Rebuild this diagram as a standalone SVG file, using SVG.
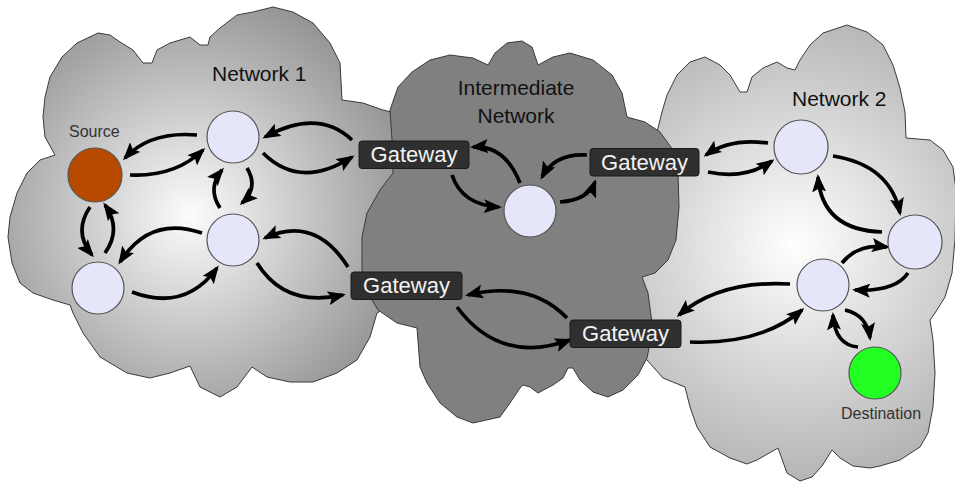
<svg xmlns="http://www.w3.org/2000/svg" width="955" height="482" viewBox="0 0 955 482">
  <defs>
    <radialGradient id="gradNet1" gradientUnits="userSpaceOnUse" cx="190" cy="215" r="230">
      <stop offset="0" stop-color="#fcfcfc"/>
      <stop offset="1" stop-color="#939393"/>
    </radialGradient>
    <radialGradient id="gradNet2" gradientUnits="userSpaceOnUse" cx="795" cy="245" r="250">
      <stop offset="0" stop-color="#ffffff"/>
      <stop offset="1" stop-color="#b0b0b0"/>
    </radialGradient>
    <marker id="head" markerUnits="userSpaceOnUse" markerWidth="18" markerHeight="14" refX="15" refY="7" orient="auto" viewBox="0 0 18 14">
      <path d="M0,0 L18,7 L0,14 L3.5,7 z" fill="#000"/>
    </marker>
  </defs>
  <style>
    .cloud{stroke:#3a3a3a;stroke-width:1;stroke-linejoin:round}
    .node{fill:#e6e6fa;stroke:#555;stroke-width:1.2}
    .gw rect{fill:#2f2f2f;stroke:#1a1a1a;stroke-width:1}
    .gw text{font-family:"Liberation Sans",Arial,sans-serif;font-size:22px;fill:#f2f2f2;text-anchor:middle}
    .label{font-family:"Liberation Sans",Arial,sans-serif;fill:#111}
    .small{font-family:"Liberation Sans",Arial,sans-serif;font-size:16px;fill:#333}
    .conn path{fill:none;stroke:#000;stroke-width:3.7;marker-end:url(#head)}
  </style>

  <!-- Network 1 cloud -->
  <g id="network1">
    <path class="cloud" fill="url(#gradNet1)" d="M45,97 L50,77 L62,57 L77,43 L98,33 L110,35 L120,42 L133,50 L143,63 L152,63 L157,50 L170,43 L190,37 L200,45 L208,45 L210,37 L220,28 L237,15 L253,12 L273,7 L293,12 L313,23 L330,43 L340,63 L342,100 L363,103 L383,110 L400,114 L420,200 L400,300 L377,313 L370,337 L357,360 L337,373 L313,382 L290,382 L267,377 L252,367 L237,387 L220,397 L200,387 L190,366 L170,373 L150,378 L127,373 L100,357 L83,333 L73,313 L70,305 L53,300 L33,293 L20,283 L12,263 L8,237 L10,217 L17,193 L27,173 L40,160 L55,155 L45,137 L43,117 Z"/>
    <text class="label" x="212" y="81" font-size="21">Network 1</text>
  </g>

  <!-- Network 2 cloud -->
  <g id="network2">
    <path class="cloud" fill="url(#gradNet2)" d="M662,112 L667,95 L677,75 L690,62 L705,57 L720,65 L730,75 L740,92 L747,92 L752,77 L763,68 L777,62 L787,68 L795,70 L800,60 L810,45 L823,33 L847,25 L867,32 L883,45 L893,65 L900,88 L905,112 L906,138 L930,140 L943,150 L953,167 L956,190 L955,240 L952,273 L945,297 L935,313 L930,320 L933,340 L935,373 L933,407 L928,433 L920,447 L900,460 L880,466 L870,468 L853,466 L840,458 L832,450 L822,466 L812,477 L800,481 L787,473 L778,448 L757,460 L747,464 L730,458 L710,447 L697,427 L690,407 L685,387 L663,378 L647,360 L640,355 L630,300 L630,200 L655,140 Z"/>
    <text class="label" x="792" y="106" font-size="21">Network 2</text>
  </g>

  <!-- Intermediate network cloud -->
  <g id="intermediate">
    <path class="cloud" fill="#808080" d="M390,110 L398,87 L412,72 L430,60 L450,55 L473,58 L488,65 L495,53 L507,43 L522,41 L532,47 L538,65 L553,57 L570,53 L593,60 L612,75 L622,93 L627,117 L645,122 L660,132 L673,150 L678,173 L679,207 L676,240 L668,260 L655,273 L642,277 L648,293 L652,323 L650,343 L647,358 L638,375 L623,390 L608,397 L593,392 L580,380 L573,368 L568,368 L563,378 L553,385 L538,393 L530,387 L523,385 L520,388 L510,403 L500,417 L473,423 L457,417 L440,403 L427,383 L420,367 L417,328 L397,323 L378,310 L368,293 L362,270 L362,237 L367,213 L380,190 L393,173 L392,140 Z"/>
    <text class="label" x="516" y="95" font-size="21" text-anchor="middle">Intermediate</text>
    <text class="label" x="516" y="123" font-size="21" text-anchor="middle">Network</text>
  </g>

  <!-- Connectors -->
  <g id="connectors" class="conn">
    <!-- Network 1 -->
    <path d="M197,135 Q150,131 125,158"/>
    <path d="M130,175 Q175,177 203,150"/>
    <path d="M220,208 Q207,188 222,170"/>
    <path d="M247,168 Q259,188 242,203"/>
    <path d="M90,207 Q73,232 92,255"/>
    <path d="M105,253 Q122,229 105,205"/>
    <path d="M202,233 Q150,215 120,262"/>
    <path d="M132,292 Q185,312 217,268"/>
    <path d="M352,140 Q318,108 265,137"/>
    <path d="M263,153 Q300,190 352,157"/>
    <path d="M348,267 Q315,215 265,238"/>
    <path d="M257,263 Q285,308 343,295"/>
    <!-- Intermediate network -->
    <path d="M520,183 Q505,145 473,147"/>
    <path d="M452,175 Q462,205 499,207"/>
    <path d="M587,155 Q555,153 542,177"/>
    <path d="M560,202 Q588,200 595,182"/>
    <path d="M567,318 Q530,280 468,295"/>
    <path d="M457,307 Q500,365 570,340"/>
    <!-- Network 2 -->
    <path d="M768,143 Q730,138 706,155"/>
    <path d="M708,172 Q745,180 772,161"/>
    <path d="M833,156 Q890,165 900,213"/>
    <path d="M882,232 Q822,230 818,177"/>
    <path d="M842,263 Q858,243 887,247"/>
    <path d="M908,273 Q895,292 855,290"/>
    <path d="M790,284 Q720,280 679,315"/>
    <path d="M690,342 Q760,345 802,310"/>
    <path d="M845,310 Q867,315 870,338"/>
    <path d="M858,347 Q835,345 833,315"/>
  </g>

  <!-- Network 1 hosts -->
  <g id="source">
    <circle cx="95" cy="175" r="27" fill="#b84a00" stroke="#555" stroke-width="1.2"/>
    <text class="small" x="69" y="137">Source</text>
  </g>
  <g id="n1-top"><circle class="node" cx="233" cy="137" r="26"/></g>
  <g id="n1-mid"><circle class="node" cx="233" cy="240" r="26"/></g>
  <g id="n1-low"><circle class="node" cx="98" cy="288" r="26"/></g>

  <!-- Intermediate host -->
  <g id="int-node"><circle class="node" cx="530" cy="211" r="26"/></g>

  <!-- Network 2 hosts -->
  <g id="n2-top"><circle class="node" cx="801" cy="147" r="27"/></g>
  <g id="n2-right"><circle class="node" cx="915" cy="242" r="27"/></g>
  <g id="n2-mid"><circle class="node" cx="823" cy="285" r="26"/></g>
  <g id="destination">
    <circle cx="875" cy="373" r="26" fill="#22ff22" stroke="#555" stroke-width="1.2"/>
    <text class="small" x="841" y="419">Destination</text>
  </g>

  <!-- Gateways -->
  <g id="gw-n1-top" class="gw">
    <rect x="359" y="141" width="110" height="27.5" rx="3"/>
    <text x="414" y="162">Gateway</text>
  </g>
  <g id="gw-n2-top" class="gw">
    <rect x="590" y="148.5" width="109" height="27.5" rx="3"/>
    <text x="644.5" y="170">Gateway</text>
  </g>
  <g id="gw-n1-low" class="gw">
    <rect x="351" y="272" width="111" height="27.5" rx="3"/>
    <text x="406.5" y="293">Gateway</text>
  </g>
  <g id="gw-n2-low" class="gw">
    <rect x="570" y="320" width="111" height="27.5" rx="3"/>
    <text x="625.5" y="341">Gateway</text>
  </g>
</svg>
